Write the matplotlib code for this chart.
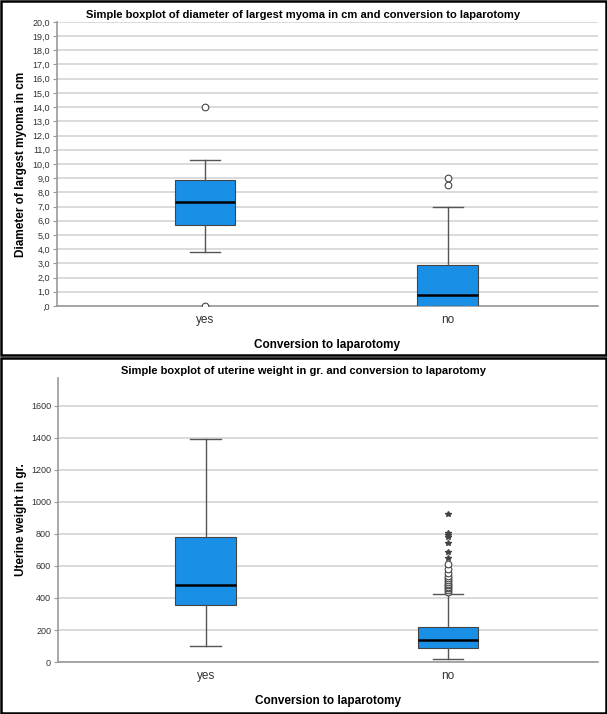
import matplotlib.pyplot as plt
from matplotlib.patches import Rectangle

plt.rcParams["font.family"] = ["Liberation Sans", "DejaVu Sans"]

groups = ["yes", "no"]

# diameter of largest myoma (cm)
diam_q1 = [5.7, 0.0]
diam_med = [7.3, 0.8]
diam_q3 = [8.9, 2.9]
diam_lo = [3.8, 0.0]
diam_hi = [10.3, 7.0]
diam_out = [[14.0, 0.0], [9.0, 8.5]]

# uterine weight (gr.)
wt_q1 = [355, 85]
wt_med = [480, 135]
wt_q3 = [780, 220]
wt_lo = [100, 20]
wt_hi = [1395, 425]
wt_out = [[], [440, 450, 460, 470, 480, 490, 500, 510, 525, 540, 555, 580, 615]]
wt_extreme = [[], [650, 685, 745, 780, 795, 805, 925]]

BLUE = "#1a8fe6"


def make_stats(q1, med, q3, lo, hi, out):
    stats = []
    for i in range(len(q1)):
        stats.append(dict(q1=q1[i], med=med[i], q3=q3[i], whislo=lo[i],
                          whishi=hi[i], fliers=out[i]))
    return stats


def draw_box(ax, stats, ylim):
    ax.bxp(stats, positions=[1, 2], widths=0.25, patch_artist=True,
           capwidths=0.125,
           boxprops=dict(facecolor=BLUE, edgecolor="#444444", linewidth=0.8),
           medianprops=dict(color="black", linewidth=1.8),
           whiskerprops=dict(color="#555555", linewidth=1.0),
           capprops=dict(color="#555555", linewidth=1.0),
           flierprops=dict(marker="o", markersize=4.8, markerfacecolor="white",
                           markeredgecolor="#444444", markeredgewidth=0.8),
           zorder=3)
    ax.set_xlim(0.391, 2.618)
    ax.set_ylim(*ylim)
    ax.set_xticks([1, 2])
    ax.set_xticklabels(groups, fontsize=8.5, color="#333333")
    ax.tick_params(axis="x", length=0, pad=6)
    ax.tick_params(axis="y", length=3, color="#999999", labelsize=6.5,
                   labelcolor="#333333", pad=2)
    for s in ["top", "right"]:
        ax.spines[s].set_visible(False)
    for s in ["left", "bottom"]:
        ax.spines[s].set_color("#999999")
        ax.spines[s].set_linewidth(1.2)
    ax.yaxis.grid(True, color="#d4d4d4", linewidth=1.2, zorder=0)
    ax.set_axisbelow(True)
    ax.set_xlabel("Conversion to laparotomy", fontsize=8.5, fontweight="bold",
                  labelpad=9)


fig = plt.figure(figsize=(6.07, 7.14), dpi=100)

# top panel
ax1 = fig.add_axes([0.0939, 0.5714, 0.891, 0.398])
draw_box(ax1, make_stats(diam_q1, diam_med, diam_q3, diam_lo, diam_hi, diam_out), (0, 20))
ax1.set_yticks([i for i in range(21)])
ax1.set_yticklabels([",0"] + [f"{i:.1f}".replace(".", ",") for i in range(1, 21)])
ax1.set_ylabel("Diameter of largest myoma in cm", fontsize=8.5, fontweight="bold")
ax1.yaxis.set_label_coords(-0.055, 0.5)
fig.text(0.5, 1 - 15 / 714, "Simple boxplot of diameter of largest myoma in cm and conversion to laparotomy",
         ha="center", va="center", fontsize=8, fontweight="bold")

# bottom panel
ax2 = fig.add_axes([0.0956, 0.0728, 0.889, 0.398])
draw_box(ax2, make_stats(wt_q1, wt_med, wt_q3, wt_lo, wt_hi, wt_out), (0, 1775))
for i, vals in enumerate(wt_extreme):
    if vals:
        ax2.plot([i + 1] * len(vals), vals, linestyle="none", marker="*",
                 markersize=4, color="#444444", zorder=4)
ax2.set_yticks(range(0, 1601, 200))
ax2.set_ylabel("Uterine weight in gr.", fontsize=8.5, fontweight="bold")
ax2.yaxis.set_label_coords(-0.057, 0.5)
fig.text(0.5, 1 - 371 / 714, "Simple boxplot of uterine weight in gr. and conversion to laparotomy",
         ha="center", va="center", fontsize=8, fontweight="bold")

# panel borders
fig.patches.append(Rectangle((0.002, 0.503), 0.996, 0.495, transform=fig.transFigure,
                             fill=False, edgecolor="black", linewidth=1.8))
fig.patches.append(Rectangle((0.002, 0.002), 0.996, 0.497, transform=fig.transFigure,
                             fill=False, edgecolor="black", linewidth=1.8))

fig.savefig("out.png", dpi=100)
